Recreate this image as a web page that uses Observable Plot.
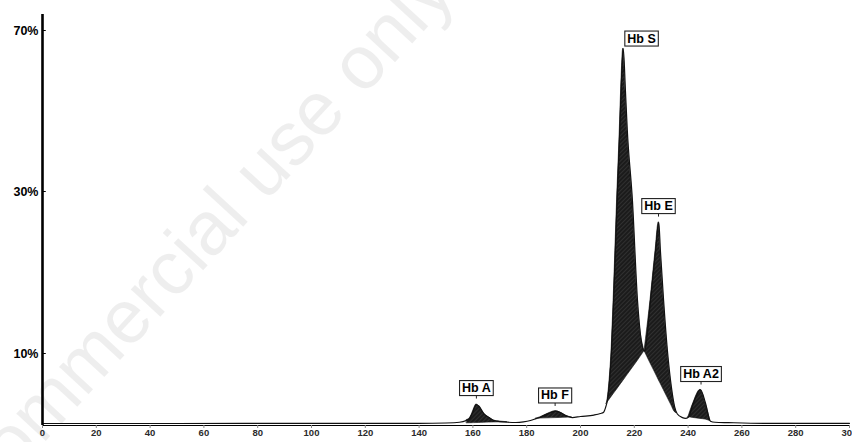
<!DOCTYPE html>
<html><head><meta charset="utf-8">
<script src="https://cdn.jsdelivr.net/npm/d3@7"></script>
<script src="https://cdn.jsdelivr.net/npm/@observablehq/plot@0.6"></script>
<style>
html,body{margin:0;padding:0;background:#fff;}
#chart{position:relative;width:852px;height:442px;overflow:hidden;}
#chart svg{font-family:"Liberation Sans",Arial,sans-serif;}
g[aria-label^="x-axis"]{color:#8a8a8a;}
g[aria-label^="x-axis"] text{fill:#2b2b2b;font-weight:bold;font-size:9.5px;}
g[aria-label^="y-axis"] text{fill:#000;font-weight:bold;font-size:12.5px;}
</style></head><body>
<svg width="0" height="0" style="position:absolute"><defs>
<pattern id="hatch" patternUnits="userSpaceOnUse" width="3" height="3" patternTransform="rotate(45)">
<rect width="3" height="3" fill="#1b1b1b"/><line x1="0" y1="0" x2="0" y2="3" stroke="#505050" stroke-width="0.8"/>
</pattern></defs></svg>
<div id="chart"></div>
<script>
// migration time (x) and signal (%)
const traceX = [0,50,100,140,150,155,157.5,158.8,159.7,160.5,161.3,162.2,164.1,166,167.8,170,172.8,176,178.8,181.4,183.5,185.1,188,190.7,192.5,194.4,196.9,200,205,207.4,208.6,209.4,210.0,210.8,211.5,212.3,213.6,214.6,215.1,215.9,216.7,217.4,219.3,221.2,223.8,226.0,227.9,229.1,229.7,230.9,232.3,233.8,235.0,236.0,237.9,239,240.1,241.9,244.6,246.5,248.3,250,255,270,300];
const traceY = [0.28,0.28,0.3,0.3,0.35,0.45,0.7,1.0,1.63,2.4,2.92,2.7,1.63,1.1,0.69,0.55,0.46,0.42,0.5,0.69,0.95,1.15,1.65,1.99,1.8,1.39,1.1,1.25,1.45,1.67,1.85,2.6,3.47,6.25,10.1,16.5,28.9,45.2,55.1,65.5,55.1,45.2,28.9,16.5,10.3,16.5,22.7,26.2,22.7,16.5,10.4,5.3,2.6,1.6,1.1,1.0,1.15,3.05,4.96,3.05,0.6,0.45,0.4,0.3,0.3];

// shaded peak fractions: [x, top, bottom]
const peakA = [[157.8,0.77,0.3],[158.8,1.0,0.31],[159.7,1.63,0.32],[160.5,2.4,0.33],[161.3,2.92,0.34],[162.2,2.7,0.35],[164.1,1.63,0.37],[166,1.1,0.4],[167.8,0.69,0.42],[170,0.55,0.44],[172.8,0.46,0.46]];
const peakF = [[183.5,0.95,0.95],[185.1,1.15,0.97],[188,1.65,1.0],[190.7,1.99,1.03],[192.5,1.8,1.05],[194.4,1.39,1.08],[196.9,1.1,1.1]];
const peakS = [[209.7,3.0,3.0],[210.0,3.47,3.15],[210.8,6.25,3.57],[211.5,10.1,3.94],[212.3,16.5,4.35],[213.6,28.9,5.0],[214.6,45.2,5.53],[215.1,55.1,5.78],[215.9,65.5,6.19],[216.7,55.1,6.6],[217.4,45.2,6.97],[219.3,28.9,7.95],[221.2,16.5,8.93],[223.8,10.3,10.3]];
const peakE = [[223.8,10.3,10.3],[226.0,16.5,8.64],[227.9,22.7,7.22],[229.1,26.2,6.3],[229.7,22.7,5.86],[230.9,16.5,4.97],[232.3,10.4,3.92],[233.8,5.3,2.8],[235.0,2.6,1.89],[235.9,1.7,1.7]];
const peakA2 = [[240.1,1.15,1.15],[241.9,3.05,1.05],[244.6,4.96,0.92],[246.5,3.05,0.82],[248.3,0.6,0.6]];

const labelNames = ["Hb A","Hb F","Hb S","Hb E","Hb A2"];
const labelX = [161.3,190.5,222.7,229.0,244.8];
const labelY = [5.2,4.17,68.0,28.2,7.15];

const xTicks = [0,20,40,60,80,100,120,140,160,180,200,220,240,260,280,300];
const yTicks = [10,30,70];

// the instrument's non-linear percent axis (piecewise linear)
const sig = d3.scaleLinear().domain([0,10,30,70]).range([0,72,234,395]);

const trace = traceX.map((x,i)=>({x, y: traceY[i]}));
const labels = labelNames.map((name,i)=>({name, x: labelX[i], y: labelY[i]}));
const areaOpts = {x1: d=>d[0], y2: d=>sig(d[1]), y1: d=>sig(d[2]), fill: "url(#hatch)", stroke: "#111", strokeWidth: 0.6, curve: "monotone-x"};

const plot = Plot.plot({
  width: 852, height: 442,
  marginLeft: 42, marginRight: 3, marginTop: 14, marginBottom: 17,
  style: {background: "transparent", fontFamily: "Liberation Sans, Arial, sans-serif"},
  x: {domain: [0,300], ticks: xTicks, tickSize: 3, tickPadding: 1, line: true, label: null, tickFormat: d=>String(d)},
  y: {domain: [0,411], ticks: yTicks.map(sig), tickSize: 0, tickPadding: 4, label: null, tickFormat: v=>Math.round(sig.invert(v))+"%"},
  marks: [
    Plot.area(peakA, areaOpts),
    Plot.area(peakF, areaOpts),
    Plot.area(peakS, areaOpts),
    Plot.area(peakE, areaOpts),
    Plot.area(peakA2, areaOpts),
    Plot.line(trace, {x: "x", y: d=>sig(d.y), stroke: "#111", strokeWidth: 1.2, curve: "monotone-x"}),
    Plot.ruleX([0], {stroke: "#000", strokeWidth: 2.6}),
    Plot.ruleY(yTicks, {y: d=>sig(d), x1: 0, x2: 1.4, stroke: "#000", strokeWidth: 1}),
    Plot.text(labels, {x: "x", y: d=>sig(d.y), text: "name", fill: "#000", fontSize: 12.5, fontWeight: "bold", textAnchor: "middle", lineAnchor: "middle"})
  ]
});
document.getElementById("chart").appendChild(plot);

// watermark behind the chart
const svgNS = "http://www.w3.org/2000/svg";
const wm = document.createElementNS(svgNS, "text");
wm.setAttribute("transform", "translate(152,296) rotate(-47.3)");
wm.setAttribute("text-anchor", "middle");
wm.setAttribute("dominant-baseline", "middle");
wm.setAttribute("font-size", "76");
wm.setAttribute("font-family", "Liberation Sans, Arial, sans-serif");
wm.setAttribute("fill", "#000");
wm.setAttribute("fill-opacity", "0.065");
wm.textContent = "Non-commercial use only";
plot.insertBefore(wm, plot.firstChild);

// boxes around peak labels
const labelTexts = Array.from(plot.querySelectorAll("text")).filter(t =>
  labelNames.includes(t.textContent) && !t.closest('g[aria-label*="axis"]'));
labelTexts.forEach(t => {
  const b = t.getBBox();
  const parent = t.parentNode;
  const tr = t.getAttribute("transform");
  const r = document.createElementNS(svgNS, "rect");
  if (tr) r.setAttribute("transform", tr);
  r.setAttribute("x", b.x - 2.5);
  r.setAttribute("y", b.y - 0.5);
  r.setAttribute("width", b.width + 5);
  r.setAttribute("height", b.height + 1);
  r.setAttribute("fill", "#fff");
  r.setAttribute("stroke", "#222");
  r.setAttribute("stroke-width", "1.1");
  parent.insertBefore(r, t);
  if (t.textContent !== "Hb S") {
    const l = document.createElementNS(svgNS, "line");
    if (tr) l.setAttribute("transform", tr);
    const cx = b.x + b.width / 2;
    l.setAttribute("x1", cx); l.setAttribute("x2", cx);
    l.setAttribute("y1", b.y + b.height + 0.5); l.setAttribute("y2", b.y + b.height + 3.5);
    l.setAttribute("stroke", "#222");
    parent.insertBefore(l, t);
  }
});
</script>
</body></html>
